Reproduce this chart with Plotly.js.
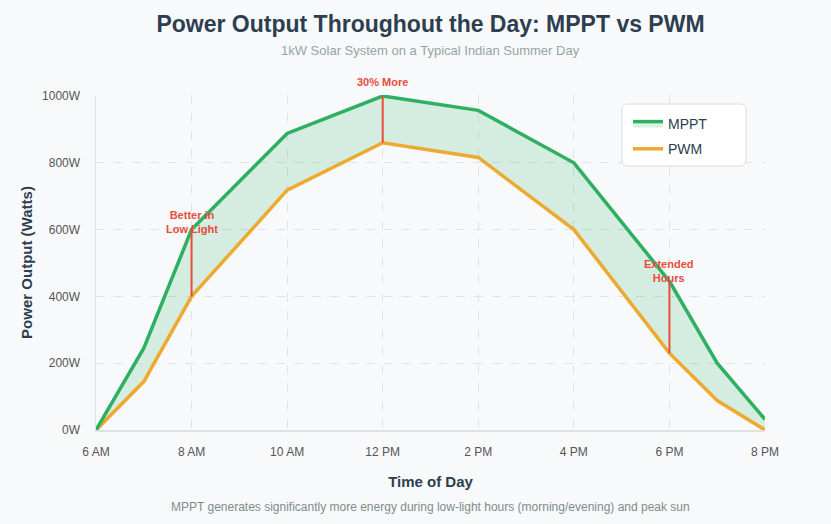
<!DOCTYPE html>
<html>
<head>
<meta charset="utf-8">
<script src="https://cdn.plot.ly/plotly-3.0.1.min.js"></script>
<style>
  html, body { margin: 0; padding: 0; background: #f8f9fa; }
  #chart { width: 831px; height: 524px; }
</style>
</head>
<body>
<div id="chart"></div>
<script>
// Hour of day (24h clock) for each reading
const hours = [6, 7, 8, 10, 12, 14, 16, 18, 19, 20];
// Power output in watts for a 1kW array
const mpptWatts = [0, 245, 600, 888, 1000, 957, 800, 445, 200, 32];
const pwmWatts  = [0, 145, 400, 718, 860, 816, 600, 230, 88, 0];

// Axis ticks
const tickHours = [6, 8, 10, 12, 14, 16, 18, 20];
const tickLabels = ['6 AM', '8 AM', '10 AM', '12 PM', '2 PM', '4 PM', '6 PM', '8 PM'];
const wattTicks = [0, 200, 400, 600, 800, 1000];
const wattLabels = ['0W', '200W', '400W', '600W', '800W', '1000W'];

// Callouts: hour where the gap is highlighted, and its label
const calloutHours = [8, 12, 18];
const calloutTexts = ['Better in<br>Low Light', '30% More', 'Extended<br>Hours'];

const RED = '#e74c3c';
const FONT = 'Liberation Sans, Arial, sans-serif';

// Plot area geometry (px) used to place paper-referenced items
const W = 831, H = 524;
const M = { l: 96, r: 66, t: 95, b: 94 };
const PW = W - M.l - M.r, PH = H - M.t - M.b;
const px = x => (x - M.l) / PW;
const py = y => (H - M.b - y) / PH;

const traces = [
  {
    x: hours, y: pwmWatts, name: 'PWM', type: 'scatter', mode: 'lines',
    line: { color: '#eeaa30', width: 3.5 },
    legendgroup: 'pwm', legendrank: 2,
    hoverinfo: 'x+y'
  },
  {
    x: hours, y: mpptWatts, name: 'MPPT', type: 'scatter', mode: 'lines',
    line: { color: '#2eb062', width: 3.5 },
    fill: 'tonexty', fillcolor: 'rgba(39,174,96,0.17)',
    legendgroup: 'mppt', legendrank: 1,
    hoverinfo: 'x+y'
  }
];

// Vertical markers between the two curves, plus their labels
const shapes = [];
const annotations = [];
const shifts = [{ yshift: 8, yanchor: 'middle' }, { yshift: 6, yanchor: 'bottom' }, { yshift: 10, yanchor: 'middle' }];
calloutHours.forEach((h, i) => {
  const k = hours.indexOf(h);
  shapes.push({
    type: 'line', xref: 'x', yref: 'y',
    x0: h, x1: h, y0: pwmWatts[k], y1: mpptWatts[k],
    line: { color: RED, width: 2 }
  });
  annotations.push({
    x: h, y: mpptWatts[k], xref: 'x', yref: 'y',
    text: '<b>' + calloutTexts[i] + '</b>', showarrow: false,
    font: { family: FONT, size: 11, color: RED },
    yanchor: shifts[i].yanchor, yshift: shifts[i].yshift
  });
});

// Rounded white panel behind the legend
(function () {
  const x0 = 622, x1 = 746, y0 = 104, y1 = 166, r = 6;
  const X = v => px(v), Y = v => py(v);
  const path = [
    'M', X(x0 + r), Y(y0),
    'L', X(x1 - r), Y(y0),
    'Q', X(x1), Y(y0), X(x1), Y(y0 + r),
    'L', X(x1), Y(y1 - r),
    'Q', X(x1), Y(y1), X(x1 - r), Y(y1),
    'L', X(x0 + r), Y(y1),
    'Q', X(x0), Y(y1), X(x0), Y(y1 - r),
    'L', X(x0), Y(y0 + r),
    'Q', X(x0), Y(y0), X(x0 + r), Y(y0), 'Z'
  ].join(' ');
  shapes.push({
    type: 'path', xref: 'paper', yref: 'paper', path: path,
    fillcolor: '#ffffff', line: { color: '#dcdcdc', width: 1 }, layer: 'above'
  });
})();

// Subtitle and footnote
annotations.push({
  xref: 'paper', yref: 'paper', x: 0.5, y: py(50),
  text: '1kW Solar System on a Typical Indian Summer Day',
  showarrow: false, xanchor: 'center', yanchor: 'middle',
  font: { family: FONT, size: 13, color: '#95a5a6' }
});
annotations.push({
  xref: 'paper', yref: 'paper', x: 0.5, y: py(507),
  text: 'MPPT generates significantly more energy during low-light hours (morning/evening) and peak sun',
  showarrow: false, xanchor: 'center', yanchor: 'middle',
  font: { family: FONT, size: 12, color: '#7f8c8d' }
});

const layout = {
  width: W, height: H,
  paper_bgcolor: '#f8f9fa', plot_bgcolor: '#f8f9fa',
  margin: M,
  font: { family: FONT, color: '#555' },
  title: {
    text: '<b>Power Output Throughout the Day: MPPT vs PWM</b>',
    font: { family: FONT, size: 23, color: '#2c3e50' },
    x: 0.5, xref: 'paper', xanchor: 'center', y: 1 - 24 / H, yanchor: 'middle', yref: 'container'
  },
  xaxis: {
    range: [6, 20],
    tickvals: tickHours, ticktext: tickLabels,
    tickfont: { family: FONT, size: 12, color: '#555' },
    ticklabelstandoff: 10,
    showgrid: true, gridcolor: '#e3e3e3', griddash: 'dash', gridwidth: 1,
    zeroline: false, showline: true, linecolor: '#e0e0e0', linewidth: 1.5,
    ticks: '',
    title: { text: '<b>Time of Day</b>', font: { family: FONT, size: 15, color: '#2c3e50' }, standoff: 18 },
    fixedrange: true
  },
  yaxis: {
    range: [0, 1003],
    tickvals: wattTicks, ticktext: wattLabels,
    tickfont: { family: FONT, size: 12, color: '#555' },
    ticklabelstandoff: 12,
    showgrid: true, gridcolor: '#e3e3e3', griddash: 'dash', gridwidth: 1,
    zeroline: false, showline: true, linecolor: '#e0e0e0', linewidth: 1.5,
    ticks: '',
    title: { text: '<b>Power Output (Watts)</b>', font: { family: FONT, size: 15, color: '#2c3e50' }, standoff: 6 },
    fixedrange: true
  },
  legend: {
    x: px(628), y: py(108), xanchor: 'left', yanchor: 'top',
    bgcolor: 'rgba(0,0,0,0)', borderwidth: 0,
    font: { family: FONT, size: 14, color: '#2c3e50' },
    traceorder: 'grouped', tracegroupgap: 4
  },
  shapes: shapes,
  annotations: annotations,
  showlegend: true
};

Plotly.newPlot('chart', traces, layout, { displayModeBar: false, staticPlot: true });
</script>
</body>
</html>
